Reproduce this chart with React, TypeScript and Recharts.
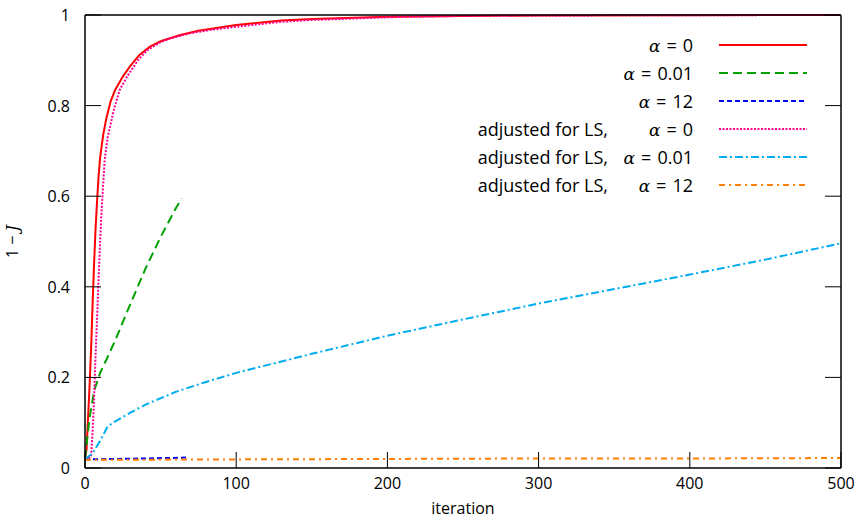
import { LineChart, Line, XAxis, YAxis } from 'recharts';

// iteration / 1-J readings for each run
const ALPHA0 = [
  [0, 0.02], [1, 0.04], [2, 0.11], [3, 0.18], [4, 0.26], [5, 0.36], [6, 0.45], [7, 0.53],
  [8, 0.59], [9, 0.645], [10, 0.685], [12, 0.735], [14, 0.77], [17, 0.81], [20, 0.835],
  [25, 0.864], [30, 0.888], [36, 0.912], [43, 0.93], [50, 0.942], [63, 0.956], [75, 0.965],
  [100, 0.978], [130, 0.988], [150, 0.991], [200, 0.996], [250, 0.998], [300, 0.999],
  [400, 0.9995], [500, 1.0],
];
const ALPHA001 = [
  [0, 0.02], [1, 0.05], [3, 0.11], [6, 0.17], [10, 0.21], [15, 0.245], [20, 0.282],
  [30, 0.362], [40, 0.44], [50, 0.51], [60, 0.573], [64, 0.595],
];
const ALPHA12 = [[0, 0.019], [20, 0.02], [40, 0.021], [67, 0.023]];
const LS_ALPHA0 = [
  [0, 0.02], [4, 0.025], [5, 0.08], [6, 0.15], [7, 0.25], [8, 0.33], [9, 0.42], [10, 0.5],
  [11, 0.57], [13, 0.68], [15, 0.73], [19, 0.79], [23, 0.835], [28, 0.865], [35, 0.9],
  [41, 0.922], [50, 0.94], [56, 0.948], [70, 0.96], [85, 0.968], [100, 0.974], [130, 0.985],
  [150, 0.989], [200, 0.995], [250, 0.998], [300, 0.999], [400, 0.9995], [500, 1.0],
];
const LS_ALPHA001 = [
  [0, 0.02], [5, 0.032], [10, 0.06], [15, 0.092], [20, 0.103], [30, 0.122], [40, 0.14],
  [60, 0.168], [80, 0.19], [100, 0.21], [150, 0.252], [200, 0.292], [250, 0.328],
  [300, 0.363], [350, 0.395], [400, 0.427], [450, 0.46], [500, 0.496],
];
const LS_ALPHA12 = [[0, 0.018], [100, 0.019], [200, 0.02], [300, 0.021], [400, 0.021], [500, 0.022]];

const X_TICKS = [0, 100, 200, 300, 400, 500];
const Y_TICKS = [0, 0.2, 0.4, 0.6, 0.8, 1];

const SERIES = [
  { alpha: '0', prefix: '', pts: ALPHA0, color: '#ff0000', dash: undefined },
  { alpha: '0.01', prefix: '', pts: ALPHA001, color: '#00a000', dash: '9 5' },
  { alpha: '12', prefix: '', pts: ALPHA12, color: '#0000ff', dash: '5 3' },
  { alpha: '0', prefix: 'adjusted for LS,', pts: LS_ALPHA0, color: '#ff0090', dash: '2 1.5' },
  { alpha: '0.01', prefix: 'adjusted for LS,', pts: LS_ALPHA001, color: '#00adef', dash: '8 3 2 3' },
  { alpha: '12', prefix: 'adjusted for LS,', pts: LS_ALPHA12, color: '#ff8000', dash: '6 4 2 4' },
];

const FONT = '"Open Sans", sans-serif';
const MATH = '"DejaVu Serif", serif';
const TICK = 16;

const fmt = (v: number) => String(Math.round(v * 10) / 10);

const BottomTick = ({ x, y, payload }: any) => (
  <g>
    <line x1={x} y1={y} x2={x} y2={y - TICK} stroke="#000" strokeWidth={1} />
    <text x={x} y={y + 21} textAnchor="middle" fontSize={16} fontFamily={FONT} fill="#000">{payload.value}</text>
  </g>
);
const TopTick = ({ x, y }: any) => (
  <line x1={x} y1={y} x2={x} y2={y + TICK} stroke="#000" strokeWidth={1} />
);
const LeftTick = ({ x, y, payload }: any) => (
  <g>
    <line x1={x} y1={y} x2={x + TICK} y2={y} stroke="#000" strokeWidth={1} />
    <text x={x - 15} y={y + 6} textAnchor="end" fontSize={16} fontFamily={FONT} fill="#000">{fmt(payload.value)}</text>
  </g>
);
const RightTick = ({ x, y }: any) => (
  <line x1={x} y1={y} x2={x - TICK} y2={y} stroke="#000" strokeWidth={1} />
);

const YLabel = ({ viewBox }: any) => {
  const cx = viewBox.x + 18;
  const cy = viewBox.y + viewBox.height / 2;
  return (
    <text transform={`translate(${cx},${cy}) rotate(-90)`} textAnchor="middle" fontSize={16} fontFamily={FONT} fill="#000">
      1 − <tspan fontFamily={MATH} fontStyle="italic">J</tspan>
    </text>
  );
};

const alphaText = (value: string) => (
  <span>
    <span style={{ fontFamily: MATH, fontStyle: 'italic', fontSize: 17 }}>α</span>
    <span style={{ margin: '0 6px' }}>=</span>
    {value}
  </span>
);

export default function App() {
  return (
    <div style={{ position: 'absolute', left: 0, top: 0, width: 857, height: 519, background: '#fff' }}>
      <LineChart width={857} height={519} margin={{ top: 14, right: 15, bottom: 0, left: 0 }}>
        <XAxis
          xAxisId={0}
          type="number"
          dataKey="x"
          domain={[0, 500]}
          ticks={X_TICKS}
          height={51}
          tickSize={0}
          tickMargin={0}
          tick={BottomTick}
          axisLine={{ stroke: '#000', strokeWidth: 1.5 }}
          label={{ value: 'iteration', position: 'insideBottom', offset: 5, fontSize: 16, fontFamily: FONT, fill: '#000' }}
        />
        <XAxis
          xAxisId="top"
          orientation="top"
          type="number"
          domain={[0, 500]}
          allowDataOverflow
          ticks={X_TICKS}
          height={1}
          tickSize={0}
          tickMargin={0}
          tick={TopTick}
          axisLine={{ stroke: '#000', strokeWidth: 1.5 }}
        />
        <YAxis
          yAxisId={0}
          type="number"
          dataKey="y"
          domain={[0, 1]}
          ticks={Y_TICKS}
          width={85}
          tickSize={0}
          tickMargin={0}
          tick={LeftTick}
          axisLine={{ stroke: '#000', strokeWidth: 1.5 }}
          label={YLabel}
        />
        <YAxis
          yAxisId="right"
          orientation="right"
          type="number"
          domain={[0, 1]}
          allowDataOverflow
          ticks={Y_TICKS}
          width={1}
          tickSize={0}
          tickMargin={0}
          tick={RightTick}
          axisLine={{ stroke: '#000', strokeWidth: 1.5 }}
        />
        {SERIES.map((s, i) => (
          <Line
            key={i}
            data={s.pts.map(([x, y]) => ({ x, y }))}
            dataKey="y"
            type="linear"
            stroke={s.color}
            strokeWidth={2}
            strokeDasharray={s.dash}
            dot={false}
            activeDot={false}
            isAnimationActive={false}
          />
        ))}
      </LineChart>
      <div style={{ position: 'absolute', left: 380, top: 31, fontFamily: FONT, fontSize: 18, color: '#000' }}>
        {SERIES.map((s, i) => (
          <div key={i} style={{ display: 'flex', alignItems: 'center', height: 28 }}>
            <div style={{ width: 228, textAlign: 'right', whiteSpace: 'nowrap' }}>{s.prefix}</div>
            <div style={{ width: 85, textAlign: 'right', whiteSpace: 'nowrap' }}>{alphaText(s.alpha)}</div>
            <svg width={114} height={10}>
              <line x1={26} y1={5} x2={114} y2={5} stroke={s.color} strokeWidth={2} strokeDasharray={s.dash} />
            </svg>
          </div>
        ))}
      </div>
    </div>
  );
}
